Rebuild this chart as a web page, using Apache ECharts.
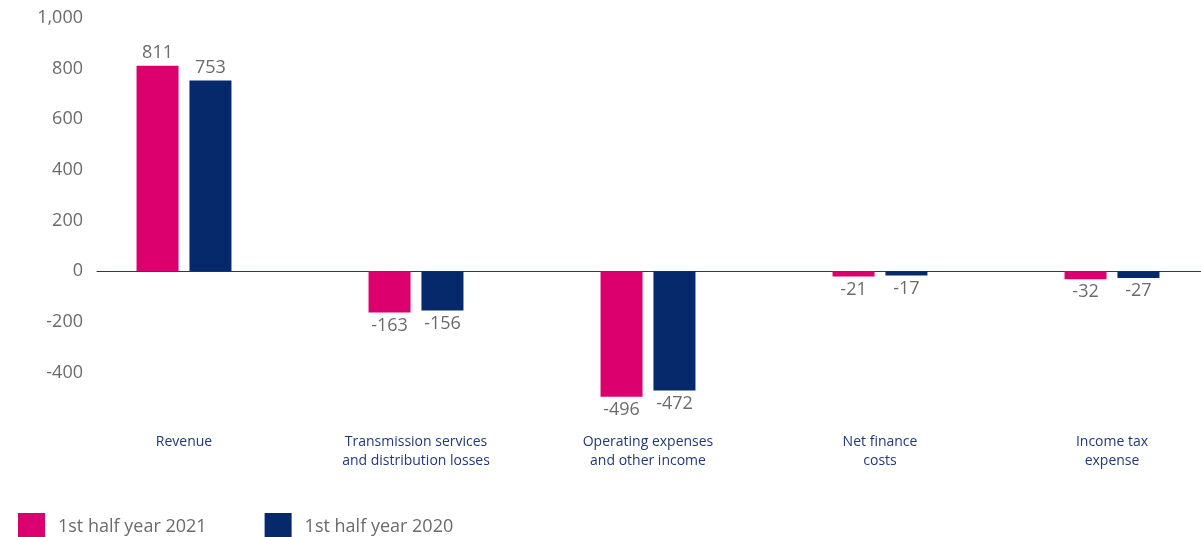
<!DOCTYPE html>
<html>
<head>
<meta charset="utf-8">
<script src="https://cdn.jsdelivr.net/npm/echarts@6/dist/echarts.min.js"></script>
<style>
  html, body { margin: 0; padding: 0; background: #fff; }
  #chart { width: 1201px; height: 537px; }
</style>
</head>
<body>
<div id="chart"></div>
<script>
// data
const categories = [
  "Revenue",
  "Transmission services\nand distribution losses",
  "Operating expenses\nand other income",
  "Net finance\ncosts",
  "Income tax\nexpense"
];
const seriesNames = ["1st half year 2021", "1st half year 2020"];
const values2021 = [811, -163, -496, -21, -32];
const values2020 = [753, -156, -472, -17, -27];

const PINK = "#DC006E";
const NAVY = "#05296B";
const FONT = "Open Sans";

const myChart = echarts.init(document.getElementById("chart"));

// negative bars get their label underneath
const toItems = (arr) =>
  arr.map((v) => ({
    value: v,
    label: { position: v < 0 ? "bottom" : "top" }
  }));

const yRange = { min: -600, max: 1000, interval: 200 };

const option = {
  animation: false,
  textStyle: { fontFamily: FONT },
  legend: {
    left: 18,
    top: 513,
    padding: 0,
    itemWidth: 27,
    itemHeight: 27,
    itemGap: 58,
    icon: "rect",
    textStyle: { fontSize: 18, color: "#6b6b6b", fontFamily: FONT, padding: [0, 0, 0, 8] },
    data: seriesNames
  },
  grid: [
    // bars
    { left: 68, width: 1160, top: 18, bottom: 114, outerBoundsMode: "none" },
    // y labels and zero line
    { left: 97, right: 0, top: 18, bottom: 114, outerBoundsMode: "none" }
  ],
  xAxis: [
    {
      type: "category",
      gridIndex: 0,
      data: categories,
      axisLine: { show: false, onZero: false },
      axisTick: { show: false },
      axisLabel: {
        margin: 10,
        fontSize: 14,
        lineHeight: 19,
        color: "#22387A",
        fontFamily: FONT
      }
    },
    {
      type: "category",
      gridIndex: 1,
      data: [],
      axisLine: { show: true, onZero: true, lineStyle: { color: "#22387A", width: 1 } },
      axisTick: { show: false },
      axisLabel: { show: false }
    }
  ],
  yAxis: [
    {
      type: "value",
      gridIndex: 0,
      ...yRange,
      show: false,
      splitLine: { show: false }
    },
    {
      type: "value",
      gridIndex: 1,
      ...yRange,
      axisLine: { show: false },
      axisTick: { show: false },
      splitLine: { show: false },
      axisLabel: {
        margin: 14,
        fontSize: 18,
        color: "#6b6b6b",
        fontFamily: FONT,
        formatter: (v) => (v === yRange.min ? "" : v.toLocaleString("en-US"))
      }
    }
  ],
  series: [
    {
      name: seriesNames[0],
      type: "bar",
      xAxisIndex: 0,
      yAxisIndex: 0,
      barWidth: 42,
      barGap: "26%",
      itemStyle: { color: PINK },
      label: { show: true, distance: 4, fontSize: 18, color: "#6b6b6b", fontFamily: FONT },
      data: toItems(values2021)
    },
    {
      name: seriesNames[1],
      type: "bar",
      xAxisIndex: 0,
      yAxisIndex: 0,
      barWidth: 42,
      barGap: "26%",
      itemStyle: { color: NAVY },
      label: { show: true, distance: 4, fontSize: 18, color: "#6b6b6b", fontFamily: FONT },
      data: toItems(values2020)
    }
  ]
};

myChart.setOption(option);
</script>
</body>
</html>
